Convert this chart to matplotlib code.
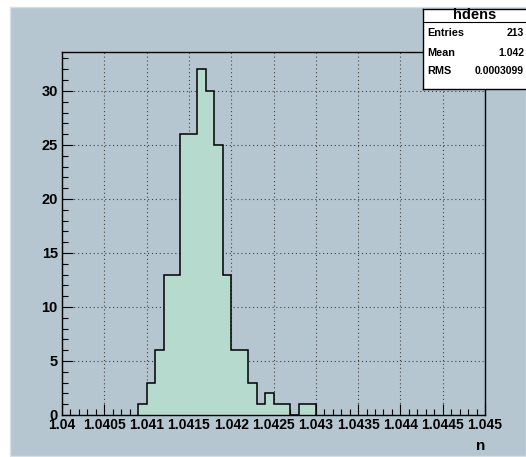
import matplotlib
matplotlib.use("Agg")
import matplotlib.pyplot as plt
from matplotlib.patches import Rectangle
import numpy as np

# histogram hdens: bins of 0.0001 starting at 1.0409
bin_start = 1.0409
bin_width = 0.0001
counts = [1, 3, 6, 13, 13, 26, 26, 32, 30, 25, 13, 6, 6, 3, 1, 2, 1, 1, 0, 1, 1]

x_ticks = [1.04, 1.0405, 1.041, 1.0415, 1.042, 1.0425, 1.043, 1.0435, 1.044, 1.0445, 1.045]
x_ticklabels = ["1.04", "1.0405", "1.041", "1.0415", "1.042", "1.0425", "1.043",
                "1.0435", "1.044", "1.0445", "1.045"]
y_ticks = [0, 5, 10, 15, 20, 25, 30]

stats_title = "hdens"
stats_rows = [("Entries", "213"), ("Mean", "1.042"), ("RMS", "0.0003099")]

bg = "#B5C6D0"
fill = "#B7DACF"
W, H = 526, 457

plt.rcParams['font.family'] = ['Liberation Sans', 'DejaVu Sans']

fig = plt.figure(figsize=(W / 100, H / 100), dpi=100)
fig.patch.set_facecolor("white")
fig.patches.append(Rectangle((10 / W, 1 / H), 516 / W, 449 / H, transform=fig.transFigure,
                             facecolor=bg, edgecolor="#D5E0E6", lw=1, zorder=-10))

ax = fig.add_axes([62 / W, 1 - 415 / H, (485 - 62) / W, (415 - 52) / H])
ax.set_facecolor(bg)

edges = bin_start + bin_width * np.arange(len(counts) + 1)
ax.stairs(counts, edges, fill=True, color=fill, zorder=2)
ax.stairs(counts, edges, baseline=0, color="black", lw=1.1, zorder=3)

ax.set_xlim(1.04, 1.045)
ax.set_ylim(0, 33.6)

# dotted grid under the histogram
for xv in x_ticks:
    ax.axvline(xv, color="#444444", lw=0.8, ls=(0, (1, 2.5)), zorder=1)
for yv in y_ticks:
    ax.axhline(yv, color="#444444", lw=0.8, ls=(0, (1, 2.5)), zorder=1)

ax.set_xticks(x_ticks)
ax.set_xticklabels(x_ticklabels)
ax.set_xticks(np.arange(1.04, 1.04501, 0.0001), minor=True)
ax.set_yticks(y_ticks)
ax.set_yticks(np.arange(0, 34), minor=True)

ax.tick_params(axis="both", which="major", direction="in", length=8, width=0.8,
               labelsize=10, top=False, right=False, colors="black")
ax.tick_params(axis="y", which="major", labelsize=10.5)
ax.tick_params(axis="both", which="minor", direction="in", length=4, width=0.8,
               top=False, right=False)
ax.tick_params(axis="x", which="major", pad=2)
ax.tick_params(axis="y", which="major", pad=3)
for lab in ax.get_xticklabels() + ax.get_yticklabels():
    lab.set_fontweight("bold")

for s in ax.spines.values():
    s.set_linewidth(1.0)
    s.set_zorder(4)

ax.set_xlabel("n", loc="right", fontsize=11, fontweight="bold", labelpad=5)

# stats box
sb = fig.add_axes([423 / W, 1 - 89 / H, 104 / W, 80 / H])
sb.set_facecolor("white")
sb.set_xticks([])
sb.set_yticks([])
for s in sb.spines.values():
    s.set_linewidth(1.0)
    s.set_color("black")
sb.set_xlim(0, 1)
sb.set_ylim(80, 0)
sb.text(0.5, 6.5, stats_title, ha="center", va="center", fontsize=10.5, fontweight="bold")
sb.axhline(13, color="black", lw=0.8)
for i, (k, v) in enumerate(stats_rows):
    yy = 24.5 + 19 * i
    sb.text(0.04, yy, k, ha="left", va="center", fontsize=7.8, fontweight="bold")
    sb.text(0.97, yy, v, ha="right", va="center", fontsize=7.5, fontweight="bold")

fig.savefig("out.png", dpi=100, facecolor="white")
